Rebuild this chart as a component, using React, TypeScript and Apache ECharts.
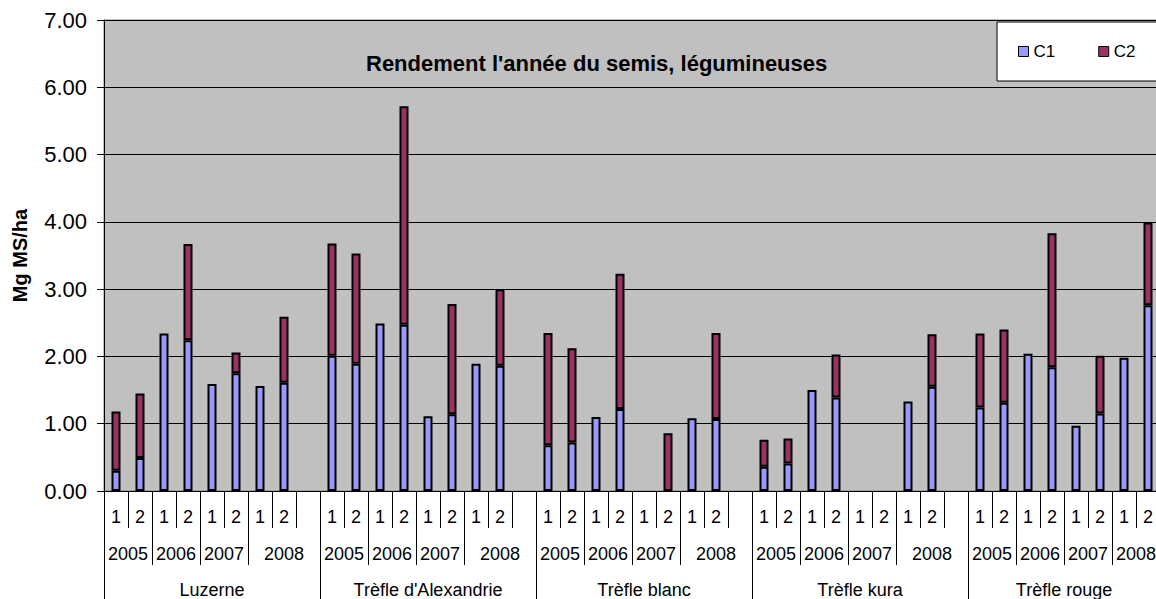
import React, { useEffect, useRef } from "react";
import * as echarts from "echarts";

const species = ["Luzerne", "Trèfle d'Alexandrie", "Trèfle blanc", "Trèfle kura", "Trèfle rouge"];
const years = ["2005", "2006", "2007", "2008"];
const cuts = ["1", "2"];
const yTicks = [0, 1, 2, 3, 4, 5, 6, 7];

// C1 / C2 yields (Mg MS/ha), order: 2005-1, 2005-2, 2006-1, 2006-2, 2007-1, 2007-2, 2008-1, 2008-2
const c1Luzerne = [0.30, 0.49, 2.34, 2.24, 1.59, 1.75, 1.56, 1.61];
const c2Luzerne = [0.88, 0.96, null, 1.43, null, 0.31, null, 0.98];
const c1Alexandrie = [2.01, 1.89, 2.49, 2.47, 1.11, 1.14, 1.89, 1.86];
const c2Alexandrie = [1.67, 1.64, null, 3.25, null, 1.64, null, 1.14];
const c1Blanc = [0.68, 0.72, 1.10, 1.22, null, null, 1.08, 1.07];
const c2Blanc = [1.67, 1.40, null, 2.01, null, 0.86, null, 1.28];
const c1Kura = [0.36, 0.41, 1.50, 1.39, null, null, 1.33, 1.55];
const c2Kura = [0.40, 0.37, null, 0.64, null, null, null, 0.78];
const c1Rouge = [1.24, 1.31, 2.04, 1.84, 0.97, 1.15, 1.98, 2.76];
const c2Rouge = [1.10, 1.09, null, 1.99, null, 0.86, null, 1.23];

const c1Groups = [c1Luzerne, c1Alexandrie, c1Blanc, c1Kura, c1Rouge];
const c2Groups = [c2Luzerne, c2Alexandrie, c2Blanc, c2Kura, c2Rouge];

// Build the flat category list (with an empty spacer slot between species)
const categories: string[] = [];
const c1Data: (number | string)[] = [];
const c2Data: (number | string)[] = [];
species.forEach((sp, g) => {
  years.forEach((yr, yi) => {
    cuts.forEach((ct, ci) => {
      const k = yi * cuts.length + ci;
      categories.push(sp + "|" + yr + "|" + ct);
      const a = c1Groups[g][k];
      const b = c2Groups[g][k];
      c1Data.push(a == null ? "-" : a);
      c2Data.push(b == null ? "-" : b);
    });
  });
  if (g < species.length - 1) {
    categories.push("gap" + g);
    c1Data.push("-");
    c2Data.push("-");
  }
});
const nCat = categories.length;
const perGroup = years.length * cuts.length + 1;

// Year-row & species-row tick / label positions (in slot units)
const yearTicks: number[] = [];
const yearLabelPos: number[] = [];
const yearLabelText: Record<string, string> = {};
const spTicks: number[] = [];
const spLabelPos: number[] = [];
const spLabelText: Record<string, string> = {};
species.forEach((sp, g) => {
  const start = g * perGroup;
  const end = Math.min(start + perGroup, nCat);
  spTicks.push(start);
  const sc = (start + end) / 2;
  spLabelPos.push(sc);
  spLabelText[String(sc)] = sp;
  years.forEach((yr, yi) => {
    const ys = start + yi * cuts.length;
    const ye = yi === years.length - 1 ? end : ys + cuts.length;
    if (yi > 0) yearTicks.push(ys);
    const c = (ys + ye) / 2;
    yearLabelPos.push(c);
    yearLabelText[String(c)] = yr;
  });
});
spTicks.push(nCat);

const FONT = "'Liberation Sans', Arial, sans-serif";

export default function App() {
  const ref = useRef<HTMLDivElement>(null);
  useEffect(() => {
    if (!ref.current) return;
    const chart = echarts.init(ref.current, null, { renderer: "svg" });
    chart.setOption({
      animation: false,
      textStyle: { fontFamily: FONT, color: "#000" },
      title: {
        text: "Rendement l'année du semis, légumineuses",
        left: 366,
        top: 52,
        padding: 0,
        textStyle: { fontFamily: FONT, fontSize: 22, fontWeight: "bold", color: "#000" },
      },
      legend: {
        data: ["C1", "C2"],
        left: 997,
        top: 22,
        orient: "horizontal",
        padding: [21, 30, 21, 21],
        itemGap: 43,
        itemWidth: 10,
        itemHeight: 10,
        icon: "rect",
        borderColor: "#000",
        borderWidth: 1,
        backgroundColor: "#fff",
        itemStyle: { borderColor: "#000", borderWidth: 1 },
        textStyle: { fontFamily: FONT, fontSize: 17, color: "#000" },
      },
      grid: {
        left: 104,
        top: 20,
        width: 1056,
        height: 471,
        show: true,
        backgroundColor: "#C0C0C0",
        borderColor: "#808080",
        borderWidth: 1,
      },
      xAxis: [
        {
          type: "category",
          data: categories,
          position: "bottom",
          axisLine: { show: true, lineStyle: { color: "#000", width: 1 } },
          axisTick: { show: true, interval: 0, length: 37, lineStyle: { color: "#000", width: 1 } },
          axisLabel: {
            interval: 0,
            margin: 17,
            fontSize: 18,
            fontFamily: FONT,
            color: "#000",
            formatter: (v: string) => (v.indexOf("|") >= 0 ? v.split("|")[2] : ""),
          },
          splitLine: { show: false },
        },
        {
          type: "value",
          min: 0,
          max: nCat,
          position: "bottom",
          axisLine: { show: false },
          splitLine: { show: false },
          axisTick: {
            show: true,
            length: 74,
            customValues: yearTicks,
            lineStyle: { color: "#000", width: 1 },
          },
          axisLabel: {
            show: true,
            margin: 54,
            fontSize: 18,
            fontFamily: FONT,
            color: "#000",
            customValues: yearLabelPos,
            formatter: (v: number) => yearLabelText[String(v)] || "",
          },
        },
        {
          type: "value",
          min: 0,
          max: nCat,
          position: "bottom",
          axisLine: { show: false },
          splitLine: { show: false },
          axisTick: {
            show: true,
            length: 120,
            customValues: spTicks,
            lineStyle: { color: "#000", width: 1 },
          },
          axisLabel: {
            show: true,
            margin: 90,
            fontSize: 18,
            fontFamily: FONT,
            color: "#000",
            customValues: spLabelPos,
            formatter: (v: number) => spLabelText[String(v)] || "",
          },
        },
      ],
      yAxis: {
        type: "value",
        min: 0,
        max: 7,
        interval: 1,
        name: "Mg MS/ha",
        nameLocation: "middle",
        nameGap: 74,
        nameRotate: 90,
        nameTextStyle: { fontFamily: FONT, fontSize: 20, fontWeight: "bold", color: "#000" },
        axisLine: { show: true, lineStyle: { color: "#000", width: 1 } },
        axisTick: { show: true, length: 7, lineStyle: { color: "#000" } },
        axisLabel: {
          margin: 17,
          fontSize: 22,
          fontFamily: FONT,
          color: "#000",
          customValues: yTicks,
          formatter: (v: number) => v.toFixed(2),
        },
        splitLine: { show: true, lineStyle: { color: "#000", width: 1 } },
      },
      series: [
        {
          name: "C1",
          type: "bar",
          stack: "total",
          xAxisIndex: 0,
          barWidth: 9,
          data: c1Data,
          itemStyle: { color: "#9999FF", borderColor: "#000", borderWidth: 2 },
        },
        {
          name: "C2",
          type: "bar",
          stack: "total",
          xAxisIndex: 0,
          barWidth: 9,
          data: c2Data,
          itemStyle: { color: "#993366", borderColor: "#000", borderWidth: 2 },
        },
      ],
    });
    return () => chart.dispose();
  }, []);
  return (
    <div style={{ position: "fixed", left: 0, top: 0, width: 1156, height: 599, overflow: "hidden", background: "#fff" }}>
      <div ref={ref} style={{ width: 1172, height: 599 }} />
    </div>
  );
}
